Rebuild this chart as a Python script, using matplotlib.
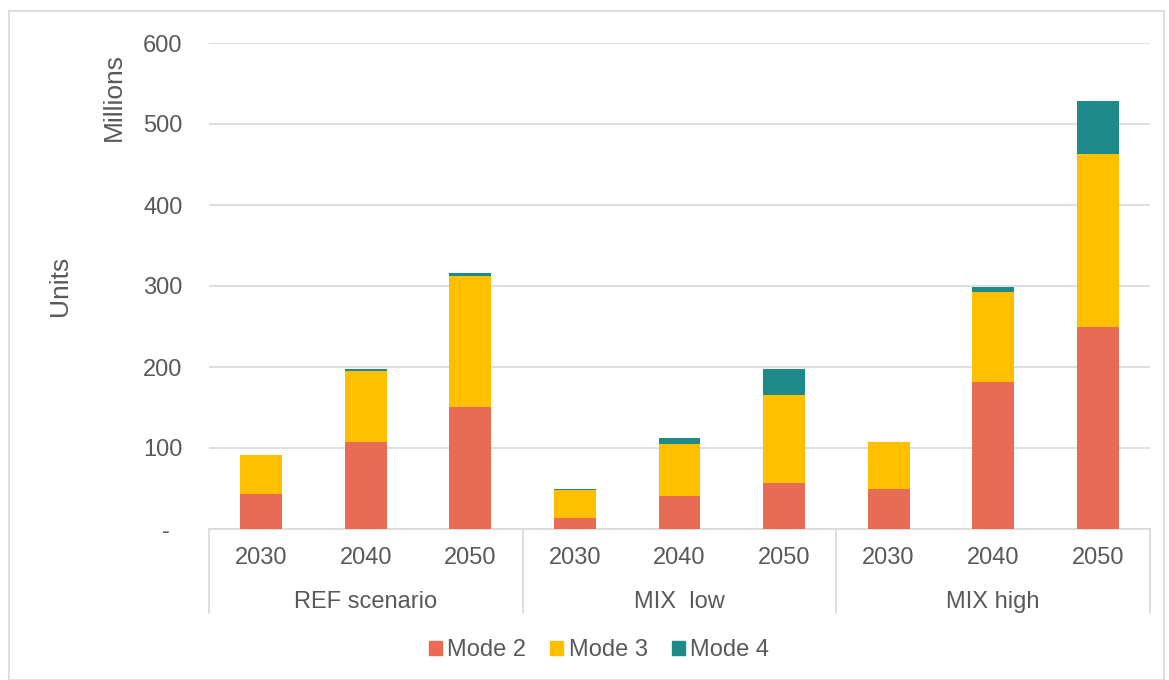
import matplotlib.pyplot as plt
from matplotlib.patches import Rectangle
import numpy as np

plt.rcParams['font.family'] = ['Liberation Sans', 'DejaVu Sans']

groups = ['REF scenario', 'MIX  low', 'MIX high']
years = ['2030', '2040', '2050']
mode2 = [43, 108, 151, 13, 41, 57, 50, 181, 249]
mode3 = [48, 87, 161, 35, 64, 108, 57, 112, 214]
mode4 = [0.8, 2, 4, 0.8, 7, 32, 1, 6, 65]

colors = {'Mode 2': '#E86C55', 'Mode 3': '#FFC000', 'Mode 4': '#1F8A8A'}
text_col = '#595959'
grid_col = '#D9D9D9'

fig = plt.figure(figsize=(11.69, 6.8), dpi=100)
ax = fig.add_axes([209 / 1169, 1 - 529 / 680, 941 / 1169, 486 / 680])

x = np.arange(len(mode2))
m2 = np.array(mode2)
m3 = np.array(mode3)
m4 = np.array(mode4)
ax.bar(x, m2, width=0.4, color=colors['Mode 2'], label='Mode 2', zorder=3)
ax.bar(x, m3, width=0.4, bottom=m2, color=colors['Mode 3'], label='Mode 3', zorder=3)
ax.bar(x, m4, width=0.4, bottom=m2 + m3, color=colors['Mode 4'], label='Mode 4', zorder=3)

ax.set_xlim(-0.5, len(mode2) - 0.5)
ax.set_ylim(0, 600)
ax.set_yticks(range(0, 700, 100))
ax.set_yticklabels(['-  '] + [str(v) for v in range(100, 700, 100)])
ax.yaxis.grid(True, color=grid_col, linewidth=1.2, zorder=0)
ax.tick_params(axis='y', length=0, pad=19, labelsize=17, labelcolor=text_col)
ax.set_xticks([])
for s in ['top', 'right', 'left']:
    ax.spines[s].set_visible(False)
ax.spines['bottom'].set_color(grid_col)
ax.spines['bottom'].set_linewidth(1.2)

# two-level category axis
trans = ax.get_xaxis_transform()
for i, y in enumerate(years * len(groups)):
    ax.text(i, -0.060, y, transform=trans, ha='center', va='center',
            fontsize=17, color=text_col)
for g, name in enumerate(groups):
    ax.text(g * 3 + 1, -0.150, name, transform=trans, ha='center', va='center',
            fontsize=17, color=text_col)
for b in [-0.5, 2.5, 5.5, 8.5]:
    ax.plot([b, b], [0, -0.173], transform=trans, color=grid_col,
            linewidth=1.2, clip_on=False)

fig.text(60 / 1169, 1 - 286 / 680, 'Units', rotation=90, ha='center', va='center',
         fontsize=19, color=text_col)
fig.text(114 / 1169, 1 - 97 / 680, 'Millions', rotation=90, ha='center', va='center',
         fontsize=19, color=text_col)

handles = [Rectangle((0, 0), 1, 1, color=colors[k]) for k in colors]
fig.legend(handles, list(colors.keys()), loc='center', bbox_to_anchor=(599 / 1169, 1 - 650 / 680),
           ncol=3, frameon=False, fontsize=17, labelcolor=text_col,
           handlelength=0.55, handleheight=0.55, handletextpad=0.25, columnspacing=1.0)

fig.patches.append(Rectangle((9 / 1169, 0), 1155 / 1169, 1 - 11 / 680, transform=fig.transFigure,
                             fill=False, edgecolor=grid_col, linewidth=1.2))

fig.savefig('out.png', dpi=100)
